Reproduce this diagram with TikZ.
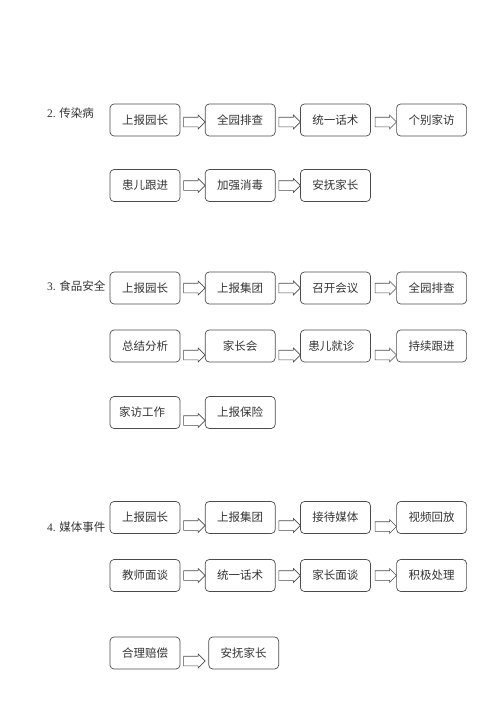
\documentclass[tikz,border=0pt]{standalone}
\usepackage{fontspec}
\setmainfont{Liberation Serif}
\newfontfamily\cjk{Noto Sans CJK SC}
\usetikzlibrary{positioning,shapes.arrows}

\begin{document}
\begin{tikzpicture}[x=1pt, y=-1pt,
                    every node/.style={font=\cjk\fontsize{11.5}{13}\selectfont, text=black!80},
                    box/.style={rectangle, rounded corners=4pt, draw=black!70, line width=0.7pt, minimum width=70pt, minimum height=32pt, inner sep=0pt},
                    blk/.style={single arrow, draw=black!70, line width=0.6pt, fill=white, minimum height=21.5pt, minimum width=0pt, inner xsep=0pt, inner ysep=4.5pt, single arrow head extend=2.2pt, anchor=west},
                    sect/.style={anchor=west, inner sep=0pt},
                    node distance=24.5pt
                ]
                \useasboundingbox (0,0) rectangle (500,707);

                \node[sect] (t2) at (47,113) {{\rmfamily 2.} 传染病};
                \node[box] (a1) at (145,120) {上报园长};
                \node[box, right=of a1] (a2) {全园排查};
                \node[box, right=of a2] (a3) {统一话术};
                \node[box, right=25.5pt of a3] (a4) {个别家访};
                \node[blk] (pa1) at ([xshift=3pt, yshift=-2pt]a1.east) {};
                \node[blk] (pa2) at ([xshift=3pt, yshift=-2pt]a2.east) {};
                \node[blk] (pa3) at ([xshift=4pt, yshift=-2pt]a3.east) {};
                \node[box] (b1) at (145,185.5) {患儿跟进};
                \node[box, right=of b1] (b2) {加强消毒};
                \node[box, right=of b2] (b3) {安抚家长};
                \node[blk] (pb1) at ([xshift=3pt]b1.east) {};
                \node[blk] (pb2) at ([xshift=3pt]b2.east) {};

                \node[sect] (t3) at (47,286) {{\rmfamily 3.} 食品安全};
                \node[box] (c1) at (145,288) {上报园长};
                \node[box, right=of c1] (c2) {上报集团};
                \node[box, right=of c2] (c3) {召开会议};
                \node[box, right=25.5pt of c3] (c4) {全园排查};
                \node[blk] (pc1) at ([xshift=3pt]c1.east) {};
                \node[blk] (pc2) at ([xshift=3pt]c2.east) {};
                \node[blk] (pc3) at ([xshift=4pt]c3.east) {};
                \node[box] (d1) at (145,346) {总结分析};
                \node[box, right=of d1] (d2) {家长会};
                \node[box, right=of d2] (d3) {\hspace*{-8pt}患儿就诊};
                \node[box, right=25.5pt of d3] (d4) {持续跟进};
                \node[blk] (pd1) at ([xshift=3pt, yshift=-9pt]d1.east) {};
                \node[blk] (pd2) at ([xshift=3pt, yshift=-9pt]d2.east) {};
                \node[blk] (pd3) at ([xshift=4pt, yshift=-9pt]d3.east) {};
                \node[box] (e1) at (145,412.5) {\hspace*{-6pt}家访工作};
                \node[box, right=of e1] (e2) {上报保险};
                \node[blk] (pe1) at ([xshift=3pt, yshift=-8pt]e1.east) {};

                \node[sect] (t4) at (47,527) {{\rmfamily 4.} 媒体事件};
                \node[box] (f1) at (145,517.5) {上报园长};
                \node[box, right=of f1] (f2) {上报集团};
                \node[box, right=of f2] (f3) {接待媒体};
                \node[box, right=25.5pt of f3] (f4) {视频回放};
                \node[blk] (pf1) at ([xshift=3pt, yshift=-8pt]f1.east) {};
                \node[blk] (pf2) at ([xshift=3pt, yshift=-8pt]f2.east) {};
                \node[blk] (pf3) at ([xshift=4pt, yshift=-9pt]f3.east) {};
                \node[box] (g1) at (145,575.5) {教师面谈};
                \node[box, right=of g1] (g2) {统一话术};
                \node[box, right=of g2] (g3) {家长面谈};
                \node[box, right=25.5pt of g3] (g4) {积极处理};
                \node[blk] (pg1) at ([xshift=3pt]g1.east) {};
                \node[blk] (pg2) at ([xshift=3pt]g2.east) {};
                \node[blk] (pg3) at ([xshift=4pt]g3.east) {};
                \node[box] (h1) at (145,653) {合理赔偿};
                \node[box, right=28pt of h1] (h2) {安抚家长};
                \node[blk] (ph1) at ([xshift=3pt, yshift=-8pt]h1.east) {};
                \end{tikzpicture}
\end{document}
